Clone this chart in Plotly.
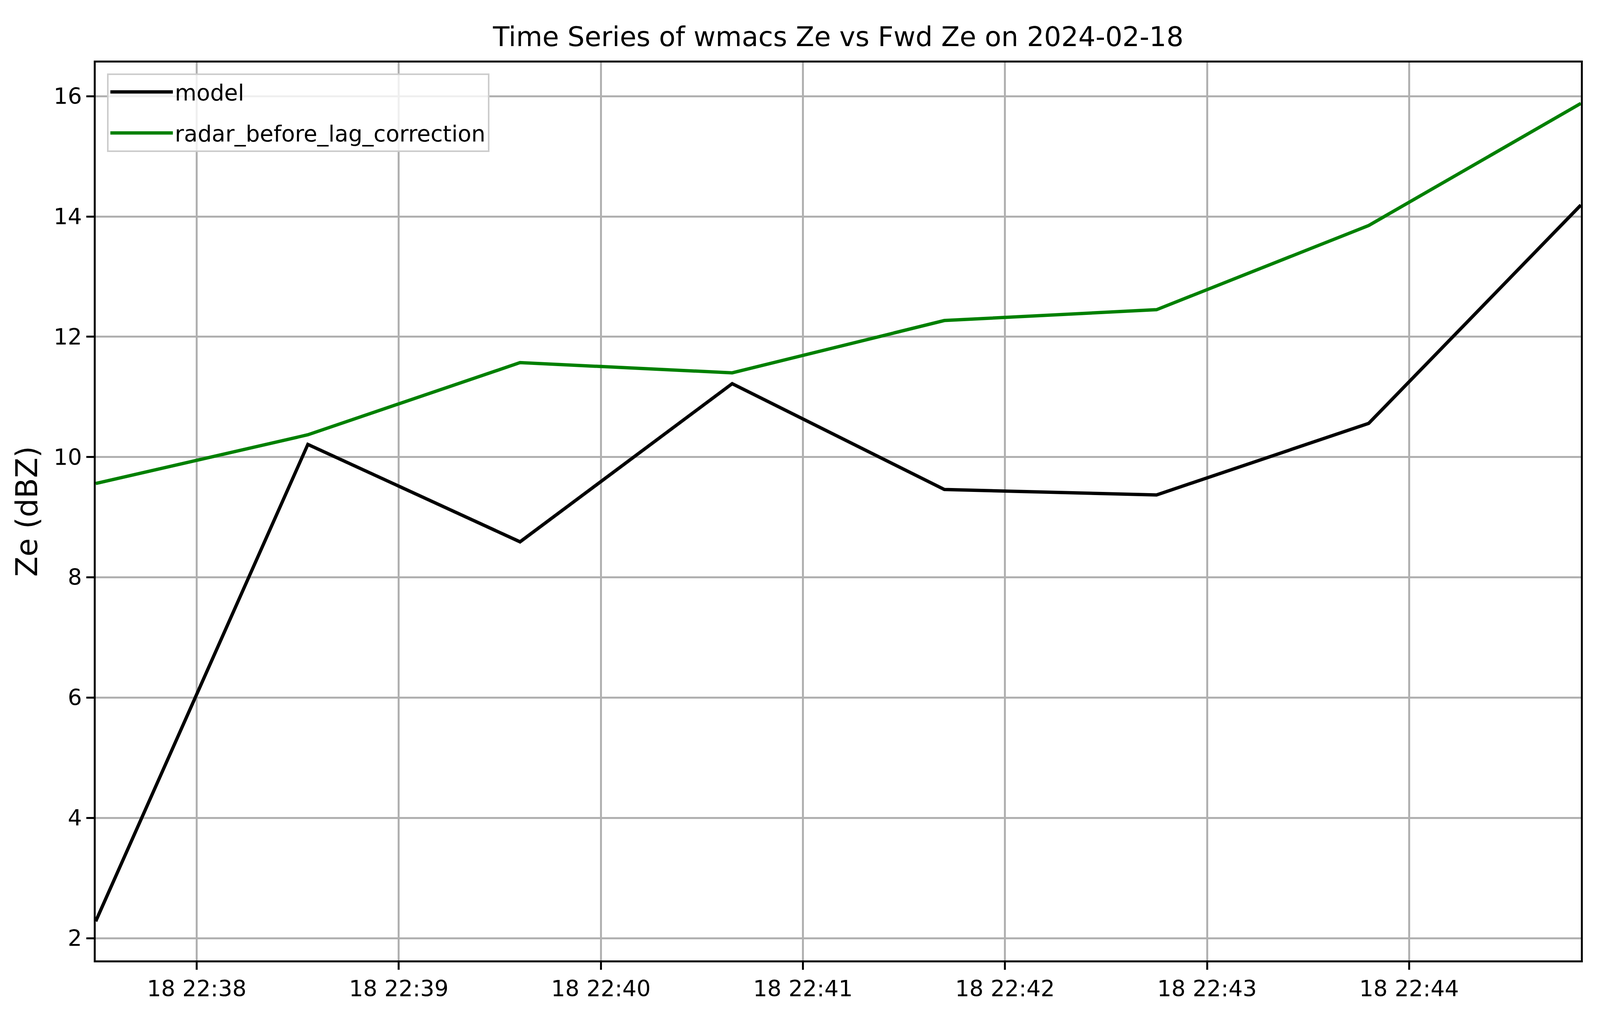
"""Time series of wmacs Ze vs forward-modelled Ze."""

import plotly.graph_objects as go

times = [
    "2024-02-18 22:37:30",
    "2024-02-18 22:38:33",
    "2024-02-18 22:39:36",
    "2024-02-18 22:40:39",
    "2024-02-18 22:41:42",
    "2024-02-18 22:42:45",
    "2024-02-18 22:43:48",
    "2024-02-18 22:44:51",
]
model_ze = [2.28, 10.21, 8.59, 11.22, 9.46, 9.37, 10.56, 14.19]
radar_ze = [9.56, 10.37, 11.57, 11.40, 12.27, 12.45, 13.85, 15.88]
y_ticks = [2, 4, 6, 8, 10, 12, 14, 16]

FONT = "DejaVu Sans"
# the figure fills the window; margins/fonts tuned to the page as it is photographed
W_EST, H_EST = 4000, 2564

fig = go.Figure()
fig.add_trace(go.Scatter(x=times, y=model_ze, mode="lines", name="model", legendgroup="a",
                         line={"color": "black", "width": 8.5}))
fig.add_trace(go.Scatter(x=times, y=radar_ze, mode="lines", name="radar_before_lag_correction",
                         legendgroup="b", line={"color": "green", "width": 8.5}))

axis_common = dict(
    showline=True, linecolor="black", linewidth=4.5, mirror=True,
    showgrid=True, gridcolor="#b0b0b0", gridwidth=4.5,
    ticks="outside", ticklen=19, tickwidth=4.5, tickcolor="black",
    tickfont={"family": FONT, "size": 57, "color": "black"},
    zeroline=False,
)

fig.update_layout(
    autosize=True,
    paper_bgcolor="white", plot_bgcolor="white",
    margin={"l": round(0.0593 * W_EST), "r": round(0.0102 * W_EST),
            "t": round(49 / 826 * H_EST), "b": round(53 / 826 * H_EST)},
    font={"family": FONT, "color": "black"},
    title={"text": "Time Series of wmacs Ze vs Fwd Ze on 2024-02-18",
           "font": {"family": FONT, "size": 69, "color": "black"},
           "x": 0.5, "xref": "paper", "xanchor": "center",
           "y": 0.967, "yanchor": "middle"},
    xaxis=dict(axis_common, type="date", range=["2024-02-18 22:37:30", "2024-02-18 22:44:51"],
               tick0="2024-02-18 22:38:00", dtick=60000, tickformat="%d %H:%M"),
    yaxis=dict(axis_common, range=[1.63, 16.56], tickvals=y_ticks,
               title={"text": "Ze (dBZ)", "font": {"family": FONT, "size": 76, "color": "black"},
                      "standoff": 18}),
    legend={"x": 0.0075, "y": 0.988, "xanchor": "left", "yanchor": "top",
            "bgcolor": "rgba(255,255,255,0.8)", "bordercolor": "#cccccc", "borderwidth": 4,
            "font": {"family": FONT, "size": 57, "color": "black"}, "itemwidth": 160,
            "tracegroupgap": 28},
    showlegend=True,
)

fig.write_html("out.html")
